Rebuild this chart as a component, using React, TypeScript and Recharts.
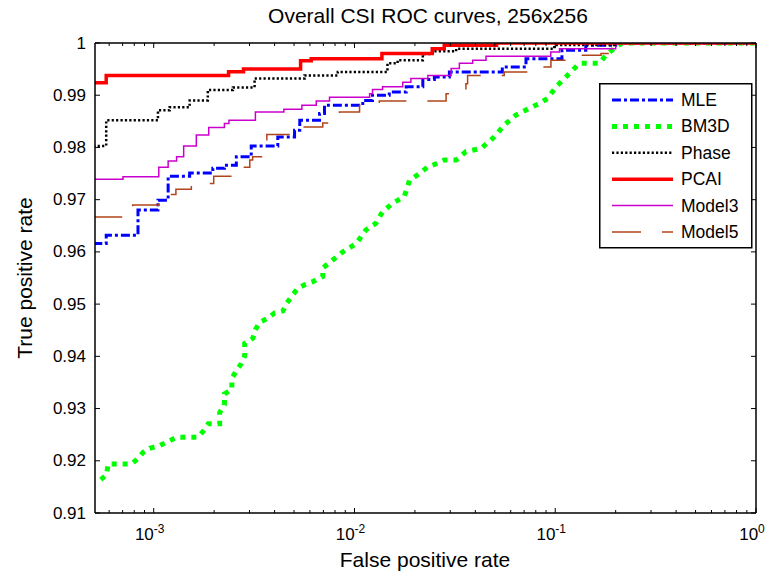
import { LineChart, Line, XAxis, YAxis } from 'recharts';

// ROC points: [false positive rate, true positive rate]
const MLE: [number, number][] = [
  [0.0005, 0.9616], [5.8e-4, 0.9632], [8.35e-4, 0.968], [1.05e-3, 0.9699], [1.18e-3, 0.9745],
  [1.51e-3, 0.9751], [1.97e-3, 0.976], [2.25e-3, 0.9766], [2.58e-3, 0.9782], [3.06e-3, 0.9803],
  [4.15e-3, 0.982], [5.03e-3, 0.9833], [5.34e-3, 0.9852], [6.7e-3, 0.9865], [7.09e-3, 0.9881],
  [1.1e-2, 0.989], [1.23e-2, 0.99], [1.49e-2, 0.9906], [1.81e-2, 0.9916], [2.19e-2, 0.993],
  [2.5e-2, 0.9935], [2.97e-2, 0.99445], [5.45e-2, 0.9954], [7.15e-2, 0.997], [0.108, 0.9986],
  [0.142, 0.99956], [0.2, 1], [1, 1],
];

const BM3D: [number, number][] = [
  [5.45e-4, 0.9164], [5.82e-4, 0.9173], [5.93e-4, 0.9194], [7.74e-4, 0.9194], [8.35e-4, 0.9204],
  [8.85e-4, 0.9216], [9.55e-4, 0.9224], [1.07e-3, 0.9229], [1.18e-3, 0.9237], [1.3e-3, 0.9245],
  [1.66e-3, 0.9245], [1.76e-3, 0.9256], [1.87e-3, 0.9271], [2.13e-3, 0.9271], [2.13e-3, 0.9292],
  [2.25e-3, 0.9307], [2.25e-3, 0.9328], [2.45e-3, 0.9336], [2.45e-3, 0.9358], [2.58e-3, 0.9372],
  [2.73e-3, 0.9386], [2.84e-3, 0.9401], [2.84e-3, 0.9425], [3.12e-3, 0.9435], [3.21e-3, 0.9451],
  [3.37e-3, 0.9465], [3.71e-3, 0.9473], [4.0e-3, 0.9483], [4.4e-3, 0.9487], [4.61e-3, 0.9502],
  [4.93e-3, 0.9518], [5.22e-3, 0.953], [5.64e-3, 0.9537], [6.2e-3, 0.9543], [6.95e-3, 0.9553],
  [6.95e-3, 0.9569], [8.75e-3, 0.96], [1.02e-2, 0.9616], [1.14e-2, 0.9642], [1.28e-2, 0.9655],
  [1.38e-2, 0.9677], [1.55e-2, 0.9693], [1.77e-2, 0.9706], [1.88e-2, 0.9737], [2.11e-2, 0.975],
  [2.32e-2, 0.9763], [2.45e-2, 0.9766], [2.8e-2, 0.9776], [3.21e-2, 0.9776], [3.59e-2, 0.9792],
  [4.27e-2, 0.9798], [4.97e-2, 0.982], [5.57e-2, 0.9843], [6.37e-2, 0.9862], [7.43e-2, 0.9875],
  [8.32e-2, 0.9884], [9.16e-2, 0.9894], [0.101, 0.9916], [0.113, 0.9935], [0.122, 0.9948],
  [0.132, 0.9961], [0.166, 0.9961], [0.179, 0.9977], [0.2, 0.9992], [0.216, 1], [1, 1],
];

const PHASE: [number, number][] = [
  [0.0005, 0.9803], [5.8e-4, 0.9852], [1.05e-3, 0.9871], [1.2e-3, 0.9877], [1.51e-3, 0.989],
  [1.86e-3, 0.991], [2.48e-3, 0.9915], [3.18e-3, 0.9932], [5.64e-3, 0.9938], [8.26e-3, 0.99445],
  [1.46e-2, 0.9961], [1.64e-2, 0.9967], [2.19e-2, 0.9979], [2.44e-2, 0.9984], [3.21e-2, 0.9989],
  [9.9e-2, 0.9996], [0.2, 1], [1, 1],
];

const PCAI: [number, number][] = [
  [0.0005, 0.9924], [5.8e-4, 0.9938], [2.36e-3, 0.9945], [2.8e-3, 0.995], [5.39e-3, 0.9966],
  [6.09e-3, 0.997], [1.37e-2, 0.998], [2.44e-2, 0.9989], [2.8e-2, 0.99955], [5.1e-2, 1], [1, 1],
];

const MODEL3: [number, number][] = [
  [0.0005, 0.9739], [7.03e-4, 0.9744], [1.06e-3, 0.9762], [1.18e-3, 0.9774], [1.3e-3, 0.9782],
  [1.41e-3, 0.9803], [1.63e-3, 0.9824], [1.88e-3, 0.9838], [2.25e-3, 0.9846], [2.37e-3, 0.9852],
  [3.21e-3, 0.9868], [4.45e-3, 0.9873], [5.47e-3, 0.9881], [6.45e-3, 0.9889], [7.51e-3, 0.9896],
  [1.19e-2, 0.9903], [1.23e-2, 0.9911], [1.38e-2, 0.9916], [1.74e-2, 0.9925], [1.91e-2, 0.9932],
  [2.32e-2, 0.9938], [3.03e-2, 0.9951], [3.33e-2, 0.9961], [3.88e-2, 0.9967], [4.52e-2, 0.99745],
  [9.5e-2, 0.9983], [0.105, 0.9989], [0.2, 1], [1, 1],
];

const MODEL5: [number, number][] = [
  [0.0005, 0.9667], [7.86e-4, 0.969], [1.06e-3, 0.9701], [1.18e-3, 0.971], [1.29e-3, 0.972],
  [1.54e-3, 0.9731], [1.99e-3, 0.9745], [2.46e-3, 0.9762], [3.01e-3, 0.9776], [3.11e-3, 0.9782],
  [3.66e-3, 0.9825], [5.13e-3, 0.9839], [6.95e-3, 0.9847], [8.42e-3, 0.9868], [1.06e-2, 0.9881],
  [1.33e-2, 0.9889], [2.86e-2, 0.9903], [2.97e-2, 0.991], [3.59e-2, 0.9922], [3.66e-2, 0.9938],
  [5.57e-2, 0.99445], [7.43e-2, 0.9954], [9.52e-2, 0.9967], [0.117, 0.99765], [0.169, 0.998],
  [0.2, 1], [1, 1],
];

const X_DECADES = [0.001, 0.01, 0.1, 1];
const Y_TICKS = [0.91, 0.92, 0.93, 0.94, 0.95, 0.96, 0.97, 0.98, 0.99, 1];

const SERIES = [
  { name: 'MLE', pts: MLE, color: '#0000ff', width: 3, dash: '9 3 3 3', curve: 'stepAfter' },
  { name: 'BM3D', pts: BM3D, color: '#00ff00', width: 5, dash: '5 6', curve: 'linear' },
  { name: 'Phase', pts: PHASE, color: '#000000', width: 2.5, dash: '2.2 2.2', curve: 'stepAfter' },
  { name: 'PCAI', pts: PCAI, color: '#ff0000', width: 3.5, dash: undefined, curve: 'stepAfter' },
  { name: 'Model3', pts: MODEL3, color: '#cc00cc', width: 1.5, dash: undefined, curve: 'stepAfter' },
  { name: 'Model5', pts: MODEL5, color: '#b0441a', width: 1.5, dash: '29 21', curve: 'stepAfter' },
];

// minor ticks 2..9 in each decade, plus 6e-4..9e-4 before the first decade
const xTicks: number[] = [6e-4, 7e-4, 8e-4, 9e-4];
X_DECADES.forEach((d, i) => {
  xTicks.push(d);
  if (i < X_DECADES.length - 1) for (let k = 2; k < 10; k++) xTicks.push(+(d * k).toPrecision(3));
});

const FONT = '"Liberation Sans", Arial, Helvetica, sans-serif';
const isDecade = (v: number) => X_DECADES.some((d) => Math.abs(d - v) < d * 1e-6);

const BottomTick = ({ x, y, payload }: any) => {
  const major = isDecade(payload.value);
  const exp = Math.round(Math.log10(payload.value));
  return (
    <g>
      <line x1={x} x2={x} y1={y} y2={y - (major ? 5 : 3)} stroke="#000" strokeWidth={1} />
      {major && (
        <text x={x - 4} y={y + 27} textAnchor="middle" fontSize={17} fontFamily={FONT} fill="#000">
          10<tspan dy={-7} fontSize={12}>{exp}</tspan>
        </text>
      )}
    </g>
  );
};

const TopTick = ({ x, y, payload }: any) => (
  <line x1={x} x2={x} y1={y} y2={y + (isDecade(payload.value) ? 5 : 3)} stroke="#000" strokeWidth={1} />
);

const LeftTick = ({ x, y, payload }: any) => (
  <g>
    <line x1={x} x2={x + 5} y1={y} y2={y} stroke="#000" strokeWidth={1} />
    <text x={x - 9} y={y} textAnchor="end" dominantBaseline="central" fontSize={17} fontFamily={FONT} fill="#000">
      {payload.value === 1 ? '1' : payload.value.toFixed(2)}
    </text>
  </g>
);

const RightTick = ({ x, y }: any) => <line x1={x} x2={x - 5} y1={y} y2={y} stroke="#000" strokeWidth={1} />;

const axisLine = { stroke: '#000', strokeWidth: 1.5 };

export default function App() {
  return (
    <div style={{ position: 'absolute', left: 0, top: 0, width: 771, height: 579, background: '#fff', fontFamily: FONT }}>
      <LineChart width={771} height={579} margin={{ top: 42, right: 14, bottom: 65, left: 94 }}>
        <XAxis xAxisId={0} dataKey="fpr" type="number" scale="log" domain={[0.00051, 1]} allowDataOverflow
          ticks={xTicks} interval={0} height={1} tickSize={0} tickMargin={0} tick={<BottomTick />} axisLine={axisLine} />
        <XAxis xAxisId="top" orientation="top" dataKey="fpr" type="number" scale="log" domain={[0.00051, 1]} allowDataOverflow
          ticks={xTicks} interval={0} height={1} tickSize={0} tickMargin={0} tick={<TopTick />} axisLine={axisLine} />
        <YAxis yAxisId={0} type="number" domain={[0.91, 1]} allowDataOverflow ticks={Y_TICKS} interval={0}
          width={1} tickSize={0} tickMargin={0} tick={<LeftTick />} axisLine={axisLine} />
        <YAxis yAxisId="right" orientation="right" type="number" domain={[0.91, 1]} allowDataOverflow ticks={Y_TICKS} interval={0}
          width={1} tickSize={0} tickMargin={0} tick={<RightTick />} axisLine={axisLine} />
        {SERIES.map((s) => (
          <Line key={s.name} name={s.name} xAxisId={0} yAxisId={0} data={s.pts.map(([fpr, tpr]) => ({ fpr, tpr }))}
            dataKey="tpr" type={s.curve as any} stroke={s.color} strokeWidth={s.width} strokeDasharray={s.dash}
            dot={false} activeDot={false} isAnimationActive={false} />
        ))}
      </LineChart>

      <div style={{ position: 'absolute', left: 228, top: 4, width: 400, textAlign: 'center', fontSize: 21, color: '#000' }}>
        Overall CSI ROC curves, 256x256
      </div>
      <div style={{ position: 'absolute', left: 225, top: 548, width: 400, textAlign: 'center', fontSize: 21, color: '#000' }}>
        False positive rate
      </div>
      <div style={{ position: 'absolute', left: 25, top: 278, width: 300, textAlign: 'center', fontSize: 21, color: '#000',
        transform: 'translate(-50%, -50%) rotate(-90deg)' }}>
        True positive rate
      </div>

      <svg style={{ position: 'absolute', left: 599, top: 83 }} width={154} height={166}>
        <rect x={0.75} y={0.75} width={152} height={164} fill="#fff" stroke="#000" strokeWidth={1.5} />
        {SERIES.map((s, i) => (
          <g key={s.name}>
            <line x1={13} x2={74} y1={17 + i * 26.4} y2={17 + i * 26.4} stroke={s.color} strokeWidth={s.width}
              strokeDasharray={s.dash} />
            <text x={82} y={17 + i * 26.4} dominantBaseline="central" fontSize={17.5} fontFamily={FONT} fill="#000">
              {s.name}
            </text>
          </g>
        ))}
      </svg>
    </div>
  );
}
